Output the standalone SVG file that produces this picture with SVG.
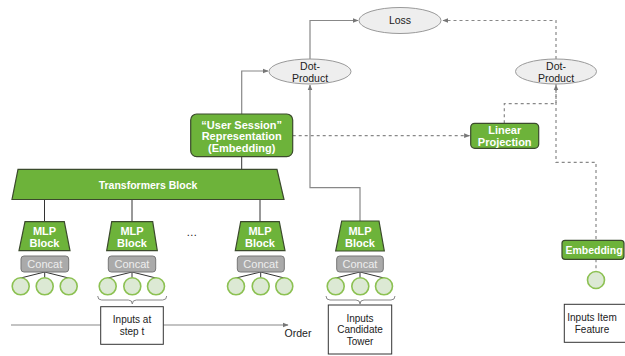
<svg xmlns="http://www.w3.org/2000/svg" width="625" height="356" viewBox="0 0 625 356">
<defs>
<marker id="ah" viewBox="0 0 10 10" refX="9" refY="5" markerWidth="6" markerHeight="6" orient="auto" markerUnits="userSpaceOnUse"><path d="M0,1 L10,5 L0,9 z" fill="#777"/></marker>
<style>
text{font-family:"Liberation Sans",Arial,sans-serif;text-anchor:middle;}
.g{fill:#6db33a;stroke:#3b4a2c;stroke-width:1.2;}
.gt{fill:#fff;font-weight:bold;font-size:11px;}
.el{fill:#eeeeee;stroke:#999;stroke-width:1;}
.et{fill:#222;font-size:10.5px;}
.cc{fill:#aaaaaa;stroke:#777;stroke-width:1;}
.ct{fill:#eeeeee;font-size:11px;}
.ci{fill:#dce9d4;stroke:#8cc152;stroke-width:1.6;}
.bx{fill:#fff;stroke:#333;stroke-width:1;}
.bt{fill:#222;font-size:10px;}
.s{fill:none;stroke:#888;stroke-width:1.2;}
.d{fill:none;stroke:#888;stroke-width:1.2;stroke-dasharray:3,3;}
.k{fill:none;stroke:#333;stroke-width:1;}
.br{fill:none;stroke:#888;stroke-width:1;}
</style>
</defs>
<g id="connectors">
<path class="s" d="M241.7,114 V71 H268" marker-end="url(#ah)"/>
<path class="s" d="M310,59 V20.5 H358" marker-end="url(#ah)"/>
<path class="s" d="M360,221 V187.7 H310 V85" marker-end="url(#ah)"/>
<path class="d" d="M556,59 V20.5 H443" marker-end="url(#ah)"/>
<path class="d" d="M292.7,135.7 H469.5" marker-end="url(#ah)"/>
<path class="d" d="M504.3,123.3 V103.7 H556 V85" marker-end="url(#ah)"/>
<path class="d" d="M556,84 V162.3 H596 V240.3"/>
<path class="d" d="M596,259.3 V271.5"/>
<path class="k" d="M241.7,156.7 V169"/>
<path class="k" d="M44.5,199.5 V221.7 M132,199.5 V221.7 M260,199.5 V221.7"/>
<path class="k" d="M44.7,272 L20.7,278 M44.7,272 V277.8 M44.7,272 L68.7,278"/>
<path class="k" d="M132,272 L107.7,278 M132,272 V277.8 M132,272 L156,278"/>
<path class="k" d="M260.7,272 L236,278 M260.7,272 V277.8 M260.7,272 L284.3,278"/>
<path class="k" d="M360,272 L335.7,278 M360,272 V277.8 M360,272 L384,278"/>
<path class="br" d="M97.7,296 Q97.7,300 101.7,300 H128.3 Q132.3,300 132.3,304 Q132.3,300 136.3,300 H162.7 Q166.7,300 166.7,296"/>
<path class="br" d="M326,296 Q326,300 330,300 H356 Q360,300 360,304 Q360,300 364,300 H391 Q395,300 395,296"/>
<path class="s" d="M11,325 H100.7 M163.3,325 H288" marker-end="url(#ah)"/>
</g>
<g id="loss"><ellipse class="el" cx="400" cy="20.5" rx="41" ry="13"/><text class="et" x="400" y="24.3">Loss</text></g>
<g id="dot-left"><ellipse class="el" cx="310" cy="71.5" rx="41" ry="12.5"/><text class="et" x="310" y="69.5">Dot-</text><text class="et" x="310" y="81.5">Product</text></g>
<g id="dot-right"><ellipse class="el" cx="556" cy="71.5" rx="40.5" ry="12.5"/><text class="et" x="556" y="69.5">Dot-</text><text class="et" x="556" y="81.5">Product</text></g>
<g id="user-session"><rect class="g" x="190.7" y="114" width="102" height="42.7" rx="6"/><text class="gt" x="241.7" y="128.8">“User Session”</text><text class="gt" x="241.7" y="140.3">Representation</text><text class="gt" x="241.7" y="151.8">(Embedding)</text></g>
<g id="linear-projection"><rect class="g" x="470.7" y="123.3" width="68" height="25" rx="4"/><text class="gt" x="504.7" y="134.3">Linear</text><text class="gt" x="504.7" y="145.8">Projection</text></g>
<g id="transformers"><path class="g" d="M18,169.3 H277 L284,199.5 H12 Z"/><text class="gt" x="148" y="188.8" style="font-size:10.5px">Transformers Block</text></g>
<g id="mlp1"><path class="g" d="M25,221.7 H64.3 L70,250.7 H19 Z"/><text class="gt" x="44.5" y="235.3">MLP</text><text class="gt" x="44.5" y="247">Block</text></g>
<g id="concat1"><rect class="cc" x="21" y="256" width="47.7" height="16" rx="3"/><text class="ct" x="44.8" y="268">Concat</text></g>
<g id="inputs1"><circle class="ci" cx="20.7" cy="286.3" r="8.5"/><circle class="ci" cx="44.7" cy="286.3" r="8.5"/><circle class="ci" cx="68.7" cy="286.3" r="8.5"/></g>
<g id="mlp2"><path class="g" d="M111.7,221.7 H152.7 L157.3,250.7 H106.7 Z"/><text class="gt" x="132" y="235.3">MLP</text><text class="gt" x="132" y="247">Block</text></g>
<g id="concat2"><rect class="cc" x="108.3" y="256" width="47.4" height="16" rx="3"/><text class="ct" x="132" y="268">Concat</text></g>
<g id="inputs2"><circle class="ci" cx="107.7" cy="286.3" r="8.5"/><circle class="ci" cx="132.3" cy="286.3" r="8.5"/><circle class="ci" cx="156" cy="286.3" r="8.5"/></g>
<g id="ellipsis"><text x="191.7" y="236" style="font-size:11px;fill:#222">…</text></g>
<g id="mlp3"><path class="g" d="M240.7,221.7 H279.3 L285,250.7 H235.3 Z"/><text class="gt" x="260" y="235.3">MLP</text><text class="gt" x="260" y="247">Block</text></g>
<g id="concat3"><rect class="cc" x="237.3" y="256" width="47" height="16" rx="3"/><text class="ct" x="260.8" y="268">Concat</text></g>
<g id="inputs3"><circle class="ci" cx="236" cy="286.3" r="8.5"/><circle class="ci" cx="260.7" cy="286.3" r="8.5"/><circle class="ci" cx="284.3" cy="286.3" r="8.5"/></g>
<g id="mlp-candidate"><path class="g" d="M341.7,221 H379 L384.3,251 H335.7 Z"/><text class="gt" x="360" y="235.3">MLP</text><text class="gt" x="360" y="247">Block</text></g>
<g id="concat-candidate"><rect class="cc" x="336.7" y="256" width="46.6" height="16" rx="3"/><text class="ct" x="360" y="268">Concat</text></g>
<g id="inputs-candidate"><circle class="ci" cx="335.7" cy="286.3" r="8.5"/><circle class="ci" cx="360.3" cy="286.3" r="8.5"/><circle class="ci" cx="384" cy="286.3" r="8.5"/></g>
<g id="embedding"><rect class="g" x="562" y="240.3" width="62" height="19" rx="3"/><text class="gt" x="594" y="254" style="font-size:10.5px">Embedding</text></g>
<g id="item-input"><circle class="ci" cx="596" cy="280" r="8.5"/></g>
<g id="box-step-t"><rect class="bx" x="100.7" y="306.7" width="62.6" height="37.6"/><text class="bt" x="132" y="323.3">Inputs at</text><text class="bt" x="132" y="335.3">step t</text></g>
<g id="box-candidate"><rect class="bx" x="328.3" y="305" width="63.4" height="49"/><text class="bt" x="360" y="321.8">Inputs</text><text class="bt" x="360" y="333.3">Candidate</text><text class="bt" x="360" y="344.8">Tower</text></g>
<g id="box-item"><rect class="bx" x="564.3" y="304.3" width="64" height="38"/><text class="bt" x="592" y="321.3">Inputs Item</text><text class="bt" x="592" y="332.8">Feature</text></g>
<g id="order"><text class="bt" x="298" y="336.5" style="font-size:10.5px">Order</text></g>
</svg>
